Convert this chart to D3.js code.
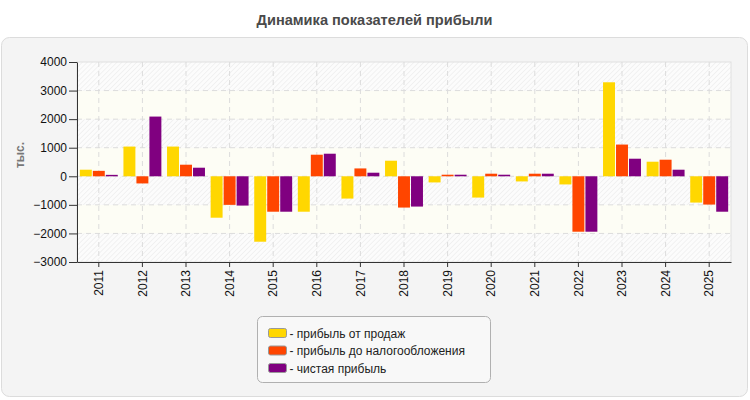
<!DOCTYPE html>
<html>
<head>
<meta charset="utf-8">
<script src="https://cdn.jsdelivr.net/npm/d3@7"></script>
<style>
  body { margin: 0; background: #fff; }
  svg { display: block; font-family: "Liberation Sans", Arial, sans-serif; }
</style>
</head>
<body>
<svg id="chart" width="750" height="400"></svg>
<script>
// data (тыс.)
const years = ["2011", "2012", "2013", "2014", "2015", "2016", "2017", "2018",
  "2019", "2020", "2021", "2022", "2023", "2024", "2025"];
const salesProfit = [230, 1040, 1040, -1450, -2290, -1240, -780, 545,
  -215, -745, -180, -285, 3290, 510, -920];
const pretaxProfit = [190, -250, 405, -1000, -1240, 755, 275, -1095,
  55, 90, 90, -1940, 1110, 580, -990];
const netProfit = [50, 2090, 300, -1025, -1240, 790, 125, -1060,
  55, 55, 90, -1940, 615, 230, -1240];
const yTicks = [-3000, -2000, -1000, 0, 1000, 2000, 3000, 4000];

const seriesNames = ["прибыль от продаж", "прибыль до налогообложения", "чистая прибыль"];
const seriesColors = ["#ffd700", "#ff4500", "#800080"];
const seriesValues = [salesProfit, pretaxProfit, netProfit];

const svg = d3.select("#chart");
const margin = { top: 62, right: 19, bottom: 138, left: 77 };
const width = 750, height = 400;
const innerW = width - margin.left - margin.right;
const innerH = height - margin.top - margin.bottom;

// outer panel
svg.append("rect")
  .attr("x", 1.5).attr("y", 37.5)
  .attr("width", 746).attr("height", 359)
  .attr("rx", 8)
  .attr("fill", "#f4f4f4")
  .attr("stroke", "#dcdcdc");

// title
svg.append("text")
  .attr("x", width / 2 - 0.5).attr("y", 25)
  .attr("text-anchor", "middle")
  .attr("font-size", 14.6)
  .attr("font-weight", "bold")
  .attr("fill", "#4a4a4a")
  .text("Динамика показателей прибыли");

// hatch pattern
const defs = svg.append("defs");
const pat = defs.append("pattern")
  .attr("id", "hatch")
  .attr("patternUnits", "userSpaceOnUse")
  .attr("width", 3.5).attr("height", 3.5)
  .attr("patternTransform", "rotate(45)");
pat.append("rect").attr("width", 3.5).attr("height", 3.5).attr("fill", "#fcfcfc");
pat.append("line").attr("x1", 0).attr("y1", 0).attr("x2", 0).attr("y2", 3.5)
  .attr("stroke", "#ededed").attr("stroke-width", 1.4);

const g = svg.append("g")
  .attr("transform", `translate(${margin.left},${margin.top})`);

const x = d3.scaleBand()
  .domain(years)
  .range([0, innerW])
  .paddingInner(0.13)
  .paddingOuter(0.065);

const x1 = d3.scaleBand()
  .domain(d3.range(seriesNames.length))
  .range([0, x.bandwidth()])
  .paddingInner(0.08);

const y = d3.scaleLinear()
  .domain([-3000, 4000])
  .range([innerH, 0]);

// background bands between ticks
const bands = yTicks.slice(0, -1).map((t, i) => [t, yTicks[i + 1]]);
g.selectAll("rect.band")
  .data(bands)
  .join("rect")
  .attr("class", "band")
  .attr("x", 0)
  .attr("width", innerW)
  .attr("y", d => y(d[1]))
  .attr("height", d => y(d[0]) - y(d[1]))
  .attr("fill", (d, i) => i % 2 === 0 ? "url(#hatch)" : "#fdfdf5");

// plot frame
g.append("rect")
  .attr("x", 0).attr("y", 0)
  .attr("width", innerW).attr("height", innerH)
  .attr("fill", "none")
  .attr("stroke", "#e0e0e0");

// grid lines
g.append("g")
  .selectAll("line")
  .data(yTicks.slice(1, -1))
  .join("line")
  .attr("x1", 0).attr("x2", innerW)
  .attr("y1", d => y(d)).attr("y2", d => y(d))
  .attr("stroke", "#dcdcdc")
  .attr("stroke-dasharray", "5,4");

g.append("g")
  .selectAll("line")
  .data(years)
  .join("line")
  .attr("x1", d => x(d) + x.bandwidth() / 2)
  .attr("x2", d => x(d) + x.bandwidth() / 2)
  .attr("y1", 0).attr("y2", innerH)
  .attr("stroke", "#dcdcdc")
  .attr("stroke-dasharray", "5,4");

// bars
const groups = g.append("g")
  .selectAll("g")
  .data(years)
  .join("g")
  .attr("transform", d => `translate(${x(d)},0)`);

groups.selectAll("rect")
  .data((d, i) => seriesValues.map((vals, s) => ({ s, v: vals[i] })))
  .join("rect")
  .attr("x", d => x1(d.s))
  .attr("width", x1.bandwidth())
  .attr("y", d => y(Math.max(0, d.v)))
  .attr("height", d => Math.abs(y(d.v) - y(0)))
  .attr("fill", d => seriesColors[d.s]);

// axes (drop d3's default font-family so the page font is inherited)
const yAxis = g.append("g")
  .call(d3.axisLeft(y).tickValues(yTicks).tickFormat(d3.format("d"))
    .tickSize(8).tickSizeOuter(0).tickPadding(2));
yAxis.attr("font-family", null).attr("font-size", null);
yAxis.select(".domain").attr("stroke", "#333");
yAxis.selectAll(".tick line").attr("stroke", "#333");
yAxis.selectAll("text").style("font-size", "12px").attr("fill", "#111");

const xAxis = g.append("g")
  .attr("transform", `translate(0,${innerH})`)
  .call(d3.axisBottom(x).tickSize(5).tickSizeOuter(0));
xAxis.attr("font-family", null).attr("font-size", null);
xAxis.select(".domain").attr("stroke", "#333");
xAxis.selectAll(".tick line").attr("stroke", "#333");
xAxis.selectAll("text")
  .style("font-size", "12px")
  .attr("fill", "#111")
  .attr("text-anchor", "end")
  .attr("dy", "0.35em")
  .attr("transform", "rotate(-90)")
  .attr("x", -8)
  .attr("y", 0);

// y axis label
svg.append("text")
  .attr("transform", "translate(24,155) rotate(-90)")
  .attr("text-anchor", "middle")
  .attr("font-size", 12)
  .attr("font-weight", "bold")
  .attr("fill", "#777")
  .text("тыс.");

// legend
const legend = svg.append("g").attr("transform", "translate(257.5,316.5)");
legend.append("rect")
  .attr("width", 233).attr("height", 66)
  .attr("rx", 5)
  .attr("fill", "#f8f8f8")
  .attr("stroke", "#b0b0b0");

const items = legend.selectAll("g.item")
  .data(seriesNames)
  .join("g")
  .attr("class", "item")
  .attr("transform", (d, i) => `translate(11,${17 + i * 17.5})`);

items.append("rect")
  .attr("x", 0).attr("y", -5)
  .attr("width", 18).attr("height", 9)
  .attr("rx", 2)
  .attr("fill", (d, i) => seriesColors[i])
  .attr("stroke", "#999");

items.append("text")
  .attr("x", 21).attr("y", 0)
  .attr("dy", "0.35em")
  .attr("font-size", 12)
  .attr("fill", "#222")
  .text(d => "- " + d);
</script>
</body>
</html>
